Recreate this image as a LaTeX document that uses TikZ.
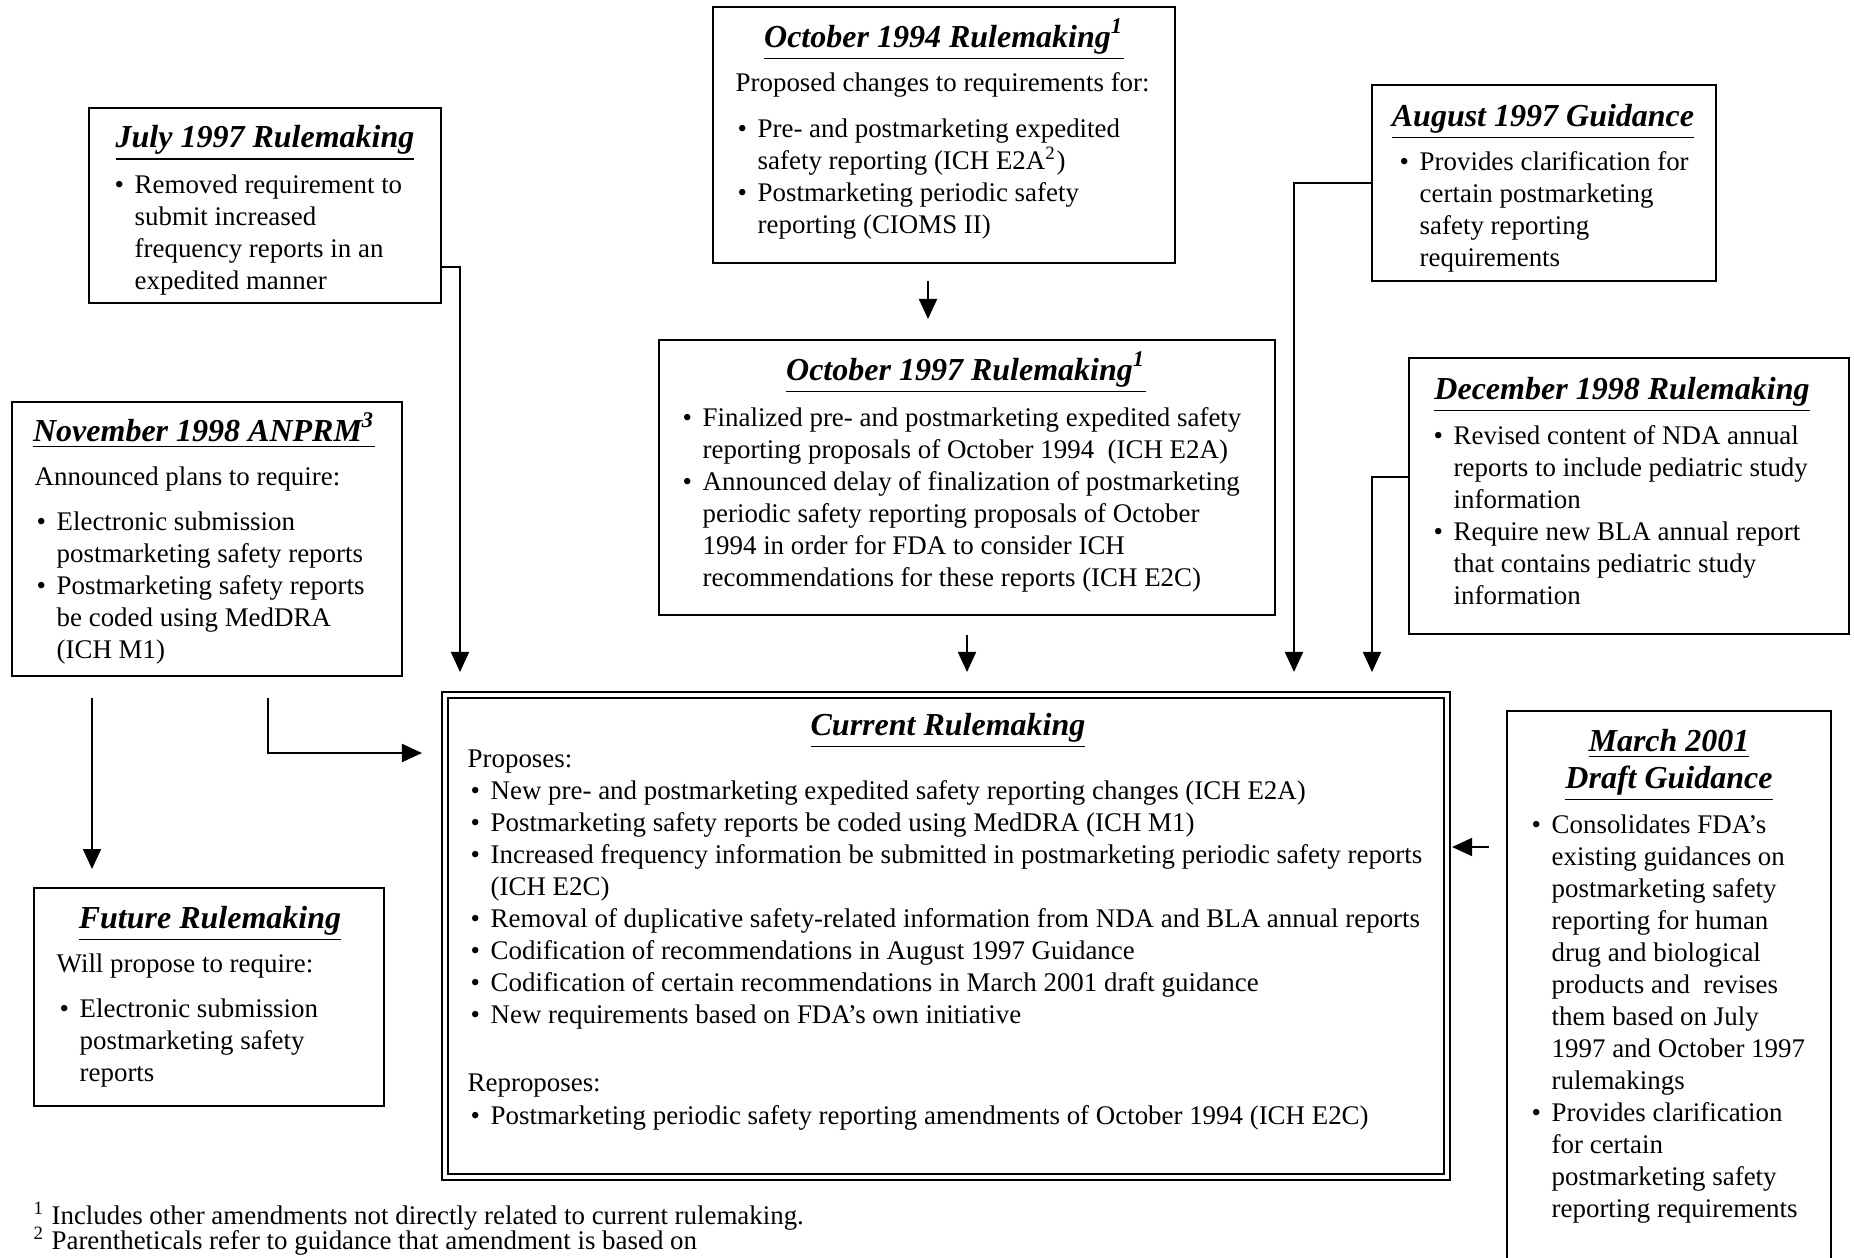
\documentclass[tikz,border=0pt]{standalone}
\usepackage{fontspec}
\setmainfont{Liberation Serif}
\usetikzlibrary{arrows.meta, fit, positioning}
\newcommand{\bodysize}{\fontsize{7.65}{9.1}\selectfont}
\newcommand{\headsize}{\fontsize{9.1}{10.5}\selectfont\bfseries\itshape}
\newcommand{\hd}[1]{\underline{#1}}
\newcommand{\bl}{\makebox[0.2cm][l]{\textbullet}}
\newcommand{\lst}[1]{\begin{tabular}[t]{@{}l@{}l@{}}#1\end{tabular}}
\tikzset{
	box/.style = {draw, line width=0.6pt, inner sep=0pt, fit={#1}},
	head/.style = {anchor=base, font=\headsize, inner sep=0pt},
	txt/.style = {anchor=base west, font=\bodysize, inner sep=0pt, align=left},
	flow/.style = {line width=0.5pt, -{Triangle[length=0.2cm, width=0.18cm]}}
}
\begin{document}
\begin{tikzpicture}[x=0.01cm, y=-0.01cm]
	\useasboundingbox (0,0) rectangle (1854,1257);
	\node [box={(89,108) (441,303)}] (jul97) {};
	\node [box={(713,7) (1175,263)}] (oct94) {};
	\node [box={(1372,85) (1716,281)}] (aug97) {};
	\node [box={(12,402) (402,676)}] (nov98) {};
	\node [box={(659,340) (1275,615)}] (oct97) {};
	\node [box={(1409,358) (1849,634)}] (dec98) {};
	\node [box={(445,695) (1447,1177)}, double, double distance=1.1pt] (cur) {};
	\node [box={(1507,711) (1831,1300)}] (mar01) {};
	\node [box={(34,888) (384,1106)}] (fut) {};

	\node [head] (jul97h) at (265,147) {\hd{July 1997 Rulemaking}};
	\node [txt] (jul97t) at (114,193) {\lst{\bl & Removed requirement to\\ & submit increased\\ & frequency reports in an\\ & expedited manner}};

	\node [head] (oct94h) at (944,47) {\hd{October 1994 Rulemaking\textsuperscript{1}}};
	\node [txt] (oct94p) at (735,91) {Proposed changes to requirements for:};
	\node [txt] (oct94t) at (737,137) {\lst{\bl & Pre- and postmarketing expedited\\ & safety reporting (ICH E2A\textsuperscript{2})\\ \bl & Postmarketing periodic safety\\ & reporting (CIOMS II)}};

	\node [head] (aug97h) at (1543,126) {\hd{August 1997 Guidance}};
	\node [txt] (aug97t) at (1399,170) {\lst{\bl & Provides clarification for\\ & certain postmarketing\\ & safety reporting\\ & requirements}};

	\node [head] (nov98h) at (204,441) {\hd{November 1998 ANPRM\textsuperscript{3}}};
	\node [txt] (nov98p) at (34,485) {Announced plans to require:};
	\node [txt] (nov98t) at (36,530) {\lst{\bl & Electronic submission\\ & postmarketing safety reports\\ \bl & Postmarketing safety reports\\ & be coded using MedDRA\\ & (ICH M1)}};

	\node [head] (oct97h) at (966,380) {\hd{October 1997 Rulemaking\textsuperscript{1}}};
	\node [txt] (oct97t) at (682,426) {\lst{\bl & Finalized pre- and postmarketing expedited safety\\ & reporting proposals of October 1994~ (ICH E2A)\\ \bl & Announced delay of finalization of postmarketing\\ & periodic safety reporting proposals of October\\ & 1994 in order for FDA to consider ICH\\ & recommendations for these reports (ICH E2C)}};

	\node [head] (dec98h) at (1622,399) {\hd{December 1998 Rulemaking}};
	\node [txt] (dec98t) at (1433,444) {\lst{\bl & Revised content of NDA annual\\ & reports to include pediatric study\\ & information\\ \bl & Require new BLA annual report\\ & that contains pediatric study\\ & information}};

	\node [head] (curh) at (948,735) {\hd{Current Rulemaking}};
	\node [txt] (curp) at (467,767) {Proposes:};
	\node [txt] (curt) at (470,799) {\lst{\bl & New pre- and postmarketing expedited safety reporting changes (ICH E2A)\\ \bl & Postmarketing safety reports be coded using MedDRA (ICH M1)\\ \bl & Increased frequency information be submitted in postmarketing periodic safety reports\\ & (ICH E2C)\\ \bl & Removal of duplicative safety-related information from NDA and BLA annual reports\\ \bl & Codification of recommendations in August 1997 Guidance\\ \bl & Codification of certain recommendations in March 2001 draft guidance\\ \bl & New requirements based on FDA's own initiative}};
	\node [txt] (currp) at (467,1091) {Reproposes:};
	\node [txt] (currt) at (470,1124) {\lst{\bl & Postmarketing periodic safety reporting amendments of October 1994 (ICH E2C)}};

	\node [head] (mar01h) at (1669,751) {\hd{March 2001}};
	\node [head] (mar01g) at (1669,788) {\hd{Draft Guidance}};
	\node [txt] (mar01t) at (1531,833) {\lst{\bl & Consolidates FDA's\\ & existing guidances on\\ & postmarketing safety\\ & reporting for human\\ & drug and biological\\ & products and~ revises\\ & them based on July\\ & 1997 and October 1997\\ & rulemakings\\ \bl & Provides clarification\\ & for certain\\ & postmarketing safety\\ & reporting requirements}};

	\node [head] (futh) at (210,928) {\hd{Future Rulemaking}};
	\node [txt] (futp) at (56,972) {Will propose to require:};
	\node [txt] (futt) at (59,1017) {\lst{\bl & Electronic submission\\ & postmarketing safety\\ & reports}};

	\node [txt] (fn1) at (33,1224) {\textsuperscript{1} Includes other amendments not directly related to current rulemaking.};
	\node [txt] (fn2) at (33,1249) {\textsuperscript{2} Parentheticals refer to guidance that amendment is based on};

	\coordinate (jul97e) at (460,672);
	\coordinate (aug97e) at (1294,672);
	\coordinate (dec98e) at (1372,672);
	\coordinate (oct94o) at (928,281);
	\coordinate (oct97i) at (928,319);
	\coordinate (oct97o) at (967,635);
	\coordinate (oct97e) at (967,672);
	\coordinate (nov98a) at (92,698);
	\coordinate (nov98b) at (92,869);
	\coordinate (nov98c) at (268,698);
	\coordinate (nov98d) at (422,753);
	\coordinate (mar01a) at (1489,847);
	\draw [flow] (jul97.east |- 0,267) -| (jul97e);
	\draw [flow] (aug97.west |- 0,183) -| (aug97e);
	\draw [flow] (dec98.west |- 0,477) -| (dec98e);
	\draw [flow] (oct94o) to (oct97i);
	\draw [flow] (oct97o) to (oct97e);
	\draw [flow] (nov98a) to (nov98b);
	\draw [flow] (nov98c) |- (nov98d);
	\draw [flow, shorten >=0.04cm] (mar01a) to (cur.east |- mar01a);
\end{tikzpicture}
\end{document}
